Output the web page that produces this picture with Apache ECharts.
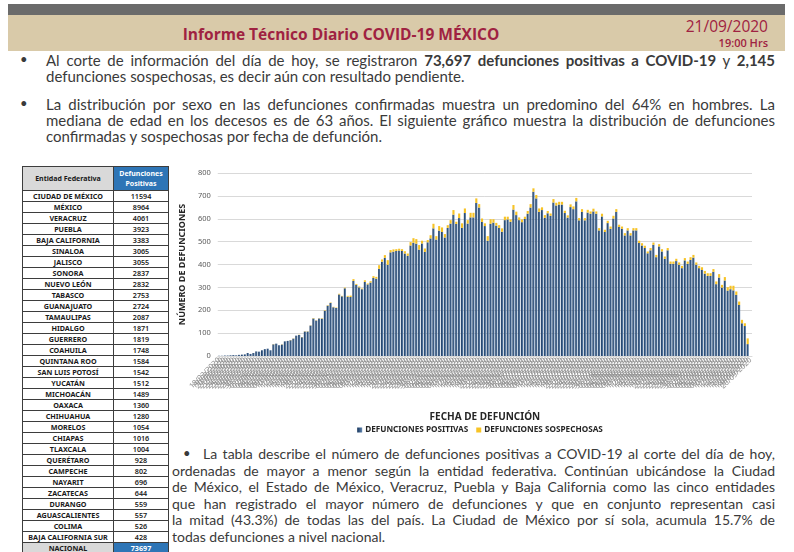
<!DOCTYPE html>
<html lang="es">
<head>
<meta charset="utf-8">
<script src="https://cdn.jsdelivr.net/npm/echarts/dist/echarts.min.js"></script>
<style>
  html,body{margin:0;padding:0;background:#fff;}
  body{width:794px;height:552px;overflow:hidden;position:relative;font-family:Lato,"Open Sans",sans-serif;}
  .abs{position:absolute;}
  #greybar{left:8px;top:4px;width:777px;height:11px;background:#6b6b6b;}
  #beige{left:8px;top:15px;width:777px;height:36px;background:#d9caa9;}
  #title{left:0;width:682px;top:23px;text-align:center;font-family:"Open Sans",sans-serif;font-weight:700;font-size:15.5px;color:#9f2241;}
  #fecha{right:26px;top:15px;font-family:"Open Sans",sans-serif;font-size:15.5px;color:#9f2241;}
  #hora{right:26px;top:35px;font-family:"Open Sans",sans-serif;font-weight:600;font-size:11px;color:#9f2241;}
  .para{left:46px;width:729px;font-size:15px;line-height:16.2px;color:#3a3a3a;font-family:Lato,"Open Sans",sans-serif;}
  .ln{text-align:justify;text-align-last:justify;}
  .last{text-align:left;text-align-last:left;}
  .bullet{font-size:13px;color:#3a3a3a;}
  #tabla{left:22px;top:166px;border-collapse:collapse;font-family:"Noto Sans","Open Sans",sans-serif;font-weight:700;}
  #tabla td{border:0.8px solid #3d3d3d;padding:0;text-align:center;font-size:7.2px;height:10px;line-height:9px;color:#1a1a1a;white-space:nowrap;}
  #tabla td.h{height:23px;font-size:7px;line-height:10px;}
  #tabla td.gris{background:#d9d9d9;}
  #tabla td.azul{background:#2e75b6;color:#fff;}
  #chart{left:170px;top:160px;width:620px;height:285px;}
  #p3{left:172px;top:446px;width:603px;font-size:14px;line-height:16.6px;color:#3a3a3a;font-family:Lato,"Open Sans",sans-serif;font-weight:400;}
</style>
</head>
<body>
<div id="greybar" class="abs"></div>
<div id="beige" class="abs"></div>
<div id="title" class="abs">Informe Técnico Diario COVID-19 MÉXICO</div>
<div id="fecha" class="abs">21/09/2020</div>
<div id="hora" class="abs">19:00 Hrs</div>

<div class="abs bullet" style="left:20px;top:51px;">•</div>
<div class="abs para" style="top:52px;">
  <div class="ln">Al corte de información del día de hoy, se registraron <b>73,697 defunciones positivas a COVID-19</b> y <b>2,145</b></div>
  <div class="ln last">defunciones sospechosas, es decir aún con resultado pendiente.</div>
</div>
<div class="abs bullet" style="left:20px;top:95px;">•</div>
<div class="abs para" style="top:96px;">
  <div class="ln">La distribución por sexo en las defunciones confirmadas muestra un predomino del 64% en hombres. La</div>
  <div class="ln">mediana de edad en los decesos es de 63 años. El siguiente gráfico muestra la distribución de defunciones</div>
  <div class="ln last">confirmadas y sospechosas por fecha de defunción.</div>
</div>

<table id="tabla" class="abs"></table>
<div id="chart" class="abs"></div>

<div class="abs bullet" style="left:183px;top:445px;">•</div>
<div id="p3" class="abs">
  <div class="ln" style="padding-left:31px;">La tabla describe el número de defunciones positivas a COVID-19 al corte del día de hoy,</div>
  <div class="ln">ordenadas de mayor a menor según la entidad federativa. Continúan ubicándose la Ciudad</div>
  <div class="ln">de México, el Estado de México, Veracruz, Puebla y Baja California como las cinco entidades</div>
  <div class="ln">que han registrado el mayor número de defunciones y que en conjunto representan casi</div>
  <div class="ln">la mitad (43.3%) de todas las del país. La Ciudad de México por sí sola, acumula 15.7% de</div>
  <div class="ln last">todas defunciones a nivel nacional.</div>
</div>

<script>
// ---- Table data ----
const entidades = ['CIUDAD DE MÉXICO','MÉXICO','VERACRUZ','PUEBLA','BAJA CALIFORNIA','SINALOA','JALISCO','SONORA','NUEVO LEÓN','TABASCO','GUANAJUATO','TAMAULIPAS','HIDALGO','GUERRERO','COAHUILA','QUINTANA ROO','SAN LUIS POTOSÍ','YUCATÁN','MICHOACÁN','OAXACA','CHIHUAHUA','MORELOS','CHIAPAS','TLAXCALA','QUERÉTARO','CAMPECHE','NAYARIT','ZACATECAS','DURANGO','AGUASCALIENTES','COLIMA','BAJA CALIFORNIA SUR'];
const defuncionesEntidad = [11594,8964,4061,3923,3383,3065,3055,2837,2832,2753,2724,2087,1871,1819,1748,1584,1542,1512,1489,1360,1280,1054,1016,1004,928,802,696,644,559,557,526,428];
const totalNacional = 73697;

// ---- Chart data (by date of death) ----
const fechaInicio = '18/03/2020';
const positivas = [
  1,1,2,2,3,4,3,5,
  6,7,13,9,13,20,19,25,30,32,25,51,54,47,50,64,66,69,76,89,92,82,107,107,
  133,164,155,164,163,198,220,232,213,210,269,261,296,259,
  258,328,311,300,292,324,313,321,341,338,381,412,429,399,453,456,
  459,461,459,448,438,483,495,491,465,492,
  455,497,514,558,509,548,542,518,560,579,
  618,577,603,560,625,579,606,606,669,649,
  586,568,504,578,583,570,560,543,594,597,
  587,640,616,594,585,599,622,649,718,689,
  630,638,604,624,613,671,658,662,662,625,
  605,651,
  642,676,593,630,593,627,622,632,622,549,
  610,542,581,556,601,630,564,556,527,549,
  527,549,549,494,483,472,449,462,486,432,
  479,457,425,462,403,403,415,399,384,418,
  403,420,430,399,384,376,360,350,350,368,
  314,343,299,330,286,292,287,267,223,143,
  131,52,
  0
];
const sospechosas = [
  0,0,0,0,0,0,0,0,
  0,0,0,0,0,0,0,0,0,0,0,1,0,0,1,0,0,1,1,0,1,1,1,1,
  1,2,1,1,2,2,2,2,2,2,3,2,3,4,
  6,8,4,4,3,7,4,6,8,8,16,10,12,20,10,10,
  8,8,8,10,10,15,20,20,20,12,
  15,10,14,20,15,20,20,15,12,15,
  20,10,20,20,20,15,20,20,20,15,
  15,12,20,20,15,12,12,15,15,12,
  10,20,15,12,12,10,12,15,15,15,
  15,12,12,10,10,15,12,12,12,10,
  10,12,
  12,15,10,12,10,12,10,12,10,10,
  12,10,10,10,12,12,10,10,10,10,
  10,10,10,10,10,10,8,10,10,10,
  10,10,10,10,10,10,10,10,10,10,
  10,12,12,10,10,12,12,12,12,12,
  12,15,12,15,15,15,20,15,15,15,
  12,25,
  0
];
const yTicks = [0,100,200,300,400,500,600,700,800];

// category labels: consecutive days from fechaInicio
const fechas = [];
(function(){
  const p = fechaInicio.split('/');
  const d = new Date(Date.UTC(+p[2], +p[1]-1, +p[0]));
  for (let i = 0; i < positivas.length; i++) {
    const dd = String(d.getUTCDate()).padStart(2,'0');
    const mm = String(d.getUTCMonth()+1).padStart(2,'0');
    fechas.push(dd + '/' + mm + '/' + d.getUTCFullYear());
    d.setUTCDate(d.getUTCDate()+1);
  }
})();

// ---- Build table ----
(function(){
  const t = document.getElementById('tabla');
  let html = '<colgroup><col style="width:91px"><col style="width:55px"></colgroup>';
  html += '<tr><td class="h gris">Entidad Federativa</td><td class="h azul">Defunciones<br>Positivas</td></tr>';
  for (let i = 0; i < entidades.length; i++) {
    html += '<tr><td>' + entidades[i] + '</td><td style="font-weight:600">' + defuncionesEntidad[i] + '</td></tr>';
  }
  html += '<tr><td class="gris">NACIONAL</td><td class="azul">' + totalNacional + '</td></tr>';
  t.innerHTML = html;
})();

// ---- Chart ----
const chart = echarts.init(document.getElementById('chart'));
chart.setOption({
  animation: false,
  textStyle: {fontFamily: '"Noto Sans","Open Sans",sans-serif'},
  grid: {left: 45, right: 38, top: 13, height: 183},
  legend: {
    top: 261, left: 'center',
    icon: 'rect', itemWidth: 5, itemHeight: 5, itemGap: 8,
    textStyle: {fontSize: 8.2, fontWeight: 'bold', color: '#262626', padding: [0,0,0,-2]},
    data: ['DEFUNCIONES POSITIVAS', 'DEFUNCIONES SOSPECHOSAS']
  },
  xAxis: {
    type: 'category', data: fechas,
    axisTick: {show: false},
    axisLine: {lineStyle: {color: '#d9d9d9'}},
    axisLabel: {interval: 0, rotate: 45, fontSize: 7.6, color: '#8f8f8f', margin: 3},
    name: 'FECHA DE DEFUNCIÓN', nameLocation: 'middle', nameGap: 56,
    nameTextStyle: {fontWeight: 'bold', fontSize: 10, color: '#262626'}
  },
  yAxis: {
    type: 'value', min: yTicks[0], max: yTicks[yTicks.length-1], interval: yTicks[1]-yTicks[0],
    splitLine: {lineStyle: {color: '#d9d9d9'}},
    axisLine: {show: false}, axisTick: {show: false},
    axisLabel: {fontSize: 7.5, color: '#595959', margin: 7},
    name: 'NÚMERO DE DEFUNCIONES', nameLocation: 'middle', nameGap: 22,
    nameTextStyle: {fontWeight: 'bold', fontSize: 9, color: '#262626'}
  },
  series: [
    {
      name: 'DEFUNCIONES POSITIVAS', type: 'bar', stack: 'total', data: positivas,
      barCategoryGap: '26%',
      itemStyle: {color: new echarts.graphic.LinearGradient(0,0,1,0,[
        {offset: 0, color: '#14335a'}, {offset: 1, color: '#6286b0'}
      ])}
    },
    {
      name: 'DEFUNCIONES SOSPECHOSAS', type: 'bar', stack: 'total', data: sospechosas,
      itemStyle: {color: '#f7c325'}
    }
  ]
});
</script>
</body>
</html>
